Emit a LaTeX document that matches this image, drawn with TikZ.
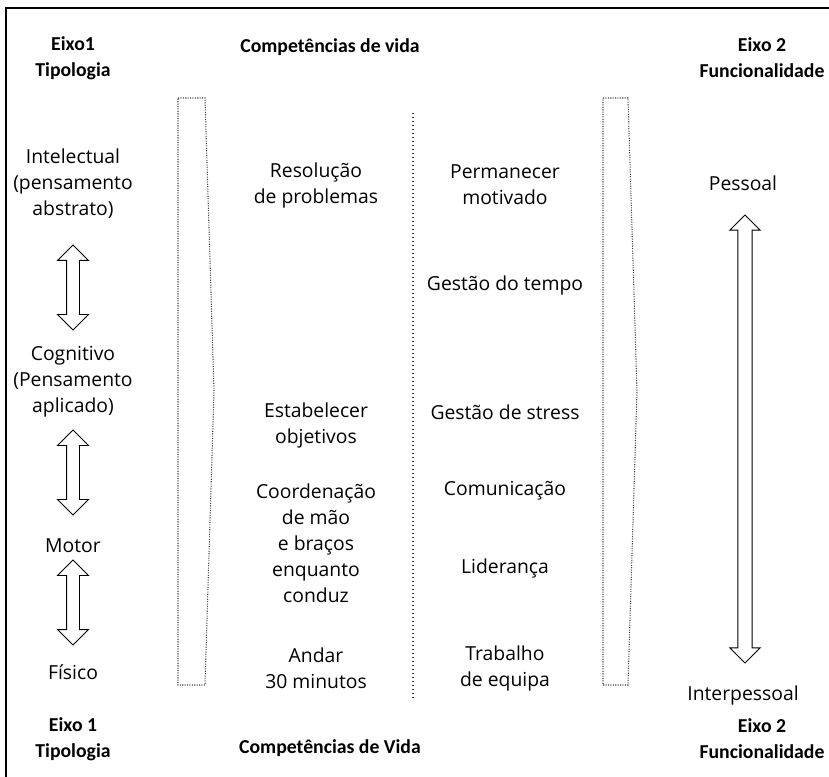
\documentclass[tikz,border=0pt]{standalone}
\usepackage{fontspec}
\setmainfont{Open Sans}
\newfontfamily\headfont{Carlito}
\usetikzlibrary{shapes.arrows}

\begin{document}
\begin{tikzpicture}[x=0.75pt,y=-0.75pt,
  txt/.style  = {align=center, inner sep=0pt,
                 font=\fontsize{14.5}{19.5}\selectfont},
  hdr/.style  = {align=center, inner sep=0pt,
                 font=\headfont\bfseries\fontsize{14.8}{19.5}\selectfont},
  dbl/.style  = {draw, double arrow, rotate=90, inner sep=0pt,
                 inner ysep=4.5pt, double arrow head extend=6.75pt,
                 line width=0.7pt},
  chev/.style = {draw=black!75, densely dotted, line width=0.8pt},
  sep/.style  = {draw=black!80, dotted, line width=1pt},
  frame/.style= {line width=2.2pt}
]
\useasboundingbox (0,0) rectangle (829,777);
\draw[frame] (6,777) -- (6,8) -- (829,8);

% headings
\node[hdr] (ax1-top) at (73,58)  {Eixo1\\Tipologia};
\node[hdr] (cv-top)  at (330,47) {Competências de vida};
\node[hdr] (ax2-top) at (762,58) {Eixo 2\\Funcionalidade};
\node[hdr] (ax1-bot) at (73,739) {Eixo 1\\Tipologia};
\node[hdr] (cv-bot)  at (330,748) {Competências de Vida};
\node[hdr] (ax2-bot) at (762,739) {Eixo 2\\Funcionalidade};

% axis 1: typology
\node[txt] (intel) at (73,184) {Intelectual\\(pensamento\\abstrato)};
\node[txt] (cogn)  at (73,382) {Cognitivo\\(Pensamento\\aplicado)};
\node[txt] (motor) at (73,546) {Motor};
\node[txt] (fisic) at (73,672) {Físico};

\node[dbl, minimum height=63.75pt] (a1) at (73,287.5) {};
\node[dbl, minimum height=63.75pt] (a2) at (73,472.5) {};
\node[dbl, minimum height=63.75pt] (a3) at (73,602.5) {};

% chevrons
\draw[chev] (178,98) -- (205,98) -- (214,391) -- (205,685) -- (178,685) -- cycle;
\draw[chev] (603,98) -- (628,98) -- (637,391) -- (628,685) -- (603,685) -- cycle;

% life skills
\node[txt] (resol) at (316,185) {Resolução\\de problemas};
\node[txt] (estab) at (316,425) {Estabelecer\\objetivos};
\node[txt] (coord) at (316,543) {Coordenação\\de mão\\e braços\\enquanto\\conduz};
\node[txt] (andar) at (316,668) {Andar\\30 minutos};

\coordinate (sep-top) at (413,113);
\coordinate (sep-bot) at (413,700);
\draw[sep] (sep-top) -- (sep-bot);

\node[txt] (perm)  at (505,185) {Permanecer\\motivado};
\node[txt] (tempo) at (505,285) {Gestão do tempo};
\node[txt] (stress) at (505,412) {Gestão de stress};
\node[txt] (comun) at (505,491) {Comunicação};
\node[txt] (lider) at (505,568) {Liderança};
\node[txt] (equip) at (505,668) {Trabalho\\de equipa};

% axis 2: functionality
\node[txt] (pess)  at (743,183) {Pessoal};
\node[txt] (inter) at (743,695) {Interpessoal};
\node[dbl, minimum height=336pt, inner ysep=5pt,
      double arrow head extend=6pt] (a4) at (745,439) {};
\end{tikzpicture}
\end{document}
